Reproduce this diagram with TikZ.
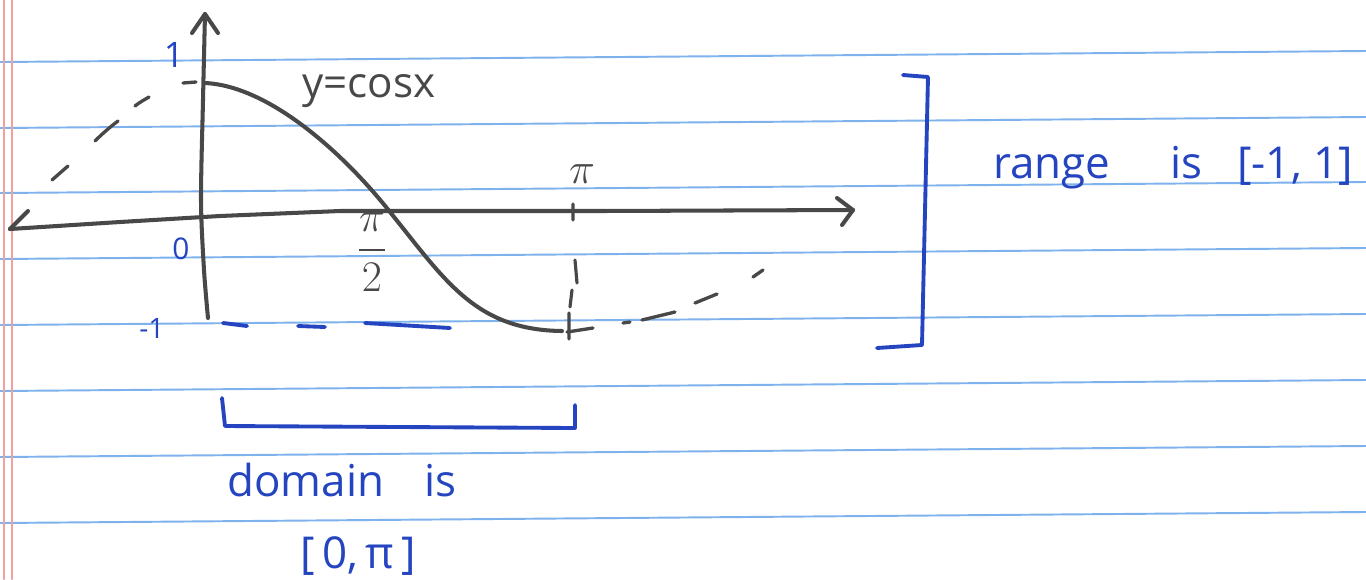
\documentclass[tikz,border=0pt]{standalone}
\usepackage{amsmath}
\usepackage{fontspec}
\setmainfont{Open Sans}
\definecolor{ink}{RGB}{36,68,192}
\definecolor{pencil}{RGB}{72,72,72}
\definecolor{paperrule}{RGB}{125,178,236}
\definecolor{marginred}{RGB}{242,160,160}
\begin{document}
\begin{tikzpicture}[x=0.02cm,y=-0.02cm, line cap=round, line join=round,
  pen/.style={draw=pencil, line width=2.3pt},
  bluepen/.style={draw=ink, line width=2.2pt},
  paperline/.style={draw=paperrule, line width=1.1pt},
  bluetxt/.style={text=ink, inner sep=0pt, font=\fontsize{25}{30}\selectfont},
  graytxt/.style={text=pencil, inner sep=0pt}]
\useasboundingbox (0,0) rectangle (1366,579);
\fill[white] (0,0) rectangle (1366,579);
% notebook paper
\foreach \yy in {62,128,193,259,325,391,457,523}
  \draw[paperline] (0,\yy) -- (1366,\yy-11);
\draw[marginred, line width=1.5pt] (4,0) -- (4,579);
\draw[marginred, line width=1.5pt] (12,0) -- (12,579);
% axes
\draw[pen] (10,229) -- (120,222) -- (220,216) -- (340,211) -- (600,211) -- (853,210);
\draw[pen] (28,211) -- (10,229);
\draw[pen] (837,198) -- (853,210) -- (842,225);
\draw[pen] plot[smooth] coordinates {(205,14) (203,100) (201,200) (204,270) (208,318)};
\draw[pen] (192,33) -- (205,14) -- (218,33);
% y = cos x on [0, pi]
\draw[pen] (205,83) .. controls (270,86) and (345,155) .. (390,212)
  .. controls (445,280) and (475,330) .. (562,331);
% dashed continuation to the left
\draw[pen, line width=1.9pt] (183,83) -- (196,82)
  (135,106) .. controls (140,102) and (144,100) .. (149,97)
  (95,141) .. controls (102,134) and (110,127) .. (118,121)
  (52,180) -- (68,166);
% dashed continuation to the right
\draw[pen, line width=1.9pt] (567,332) -- (593,328)
  (623,323) -- (630,322)
  (642,320) -- (675,312)
  (695,303) -- (717,294)
  (753,277) -- (763,270);
% dashed vertical at pi
\draw[pen, line width=1.8pt] (573,204) -- (573,220)
  (575,260) -- (577,283)
  (572,290) -- (570,307)
  (569,313) -- (569,339);
% blue dashed line at -1
\draw[bluepen] (223,323) -- (247,326)
  (298,326) -- (325,327)
  (365,323) -- (450,328);
% labels on the axes
\node[bluetxt, font=\fontsize{20}{24}\selectfont] (one) at (174,55) {1};
\node[bluetxt, font=\fontsize{17}{20}\selectfont] (zero) at (181,249) {0};
\node[bluetxt, font=\fontsize{16}{18}\selectfont] (mone) at (152,328) {-1};
\node[graytxt, font=\fontsize{23}{26}\selectfont] (halfpi) at (372,252) {$\dfrac{\pi}{2}$};
\node[graytxt, font=\fontsize{32}{36}\selectfont] (pi) at (582,174) {$\pi$};
\node[graytxt, anchor=base west, font=\fontsize{24}{28}\selectfont] (func) at (302,97) {y=cosx};
% range bracket
\draw[bluepen] (903,75) -- (928,77) -- (922,345) -- (877,348);
\node[bluetxt, anchor=base west] (range) at (993,178) {range\hspace{34pt}is\hspace{20pt}[-1, 1]};
% domain bracket
\draw[bluepen] (222,398) -- (225,426) -- (575,428) -- (575,405);
\node[bluetxt, anchor=base west] (domain) at (227,496) {domain\hspace{23pt}is};
\node[bluetxt, anchor=base west] (interval) at (300,568) {[\,0,\,π\,]};
\end{tikzpicture}
\end{document}
